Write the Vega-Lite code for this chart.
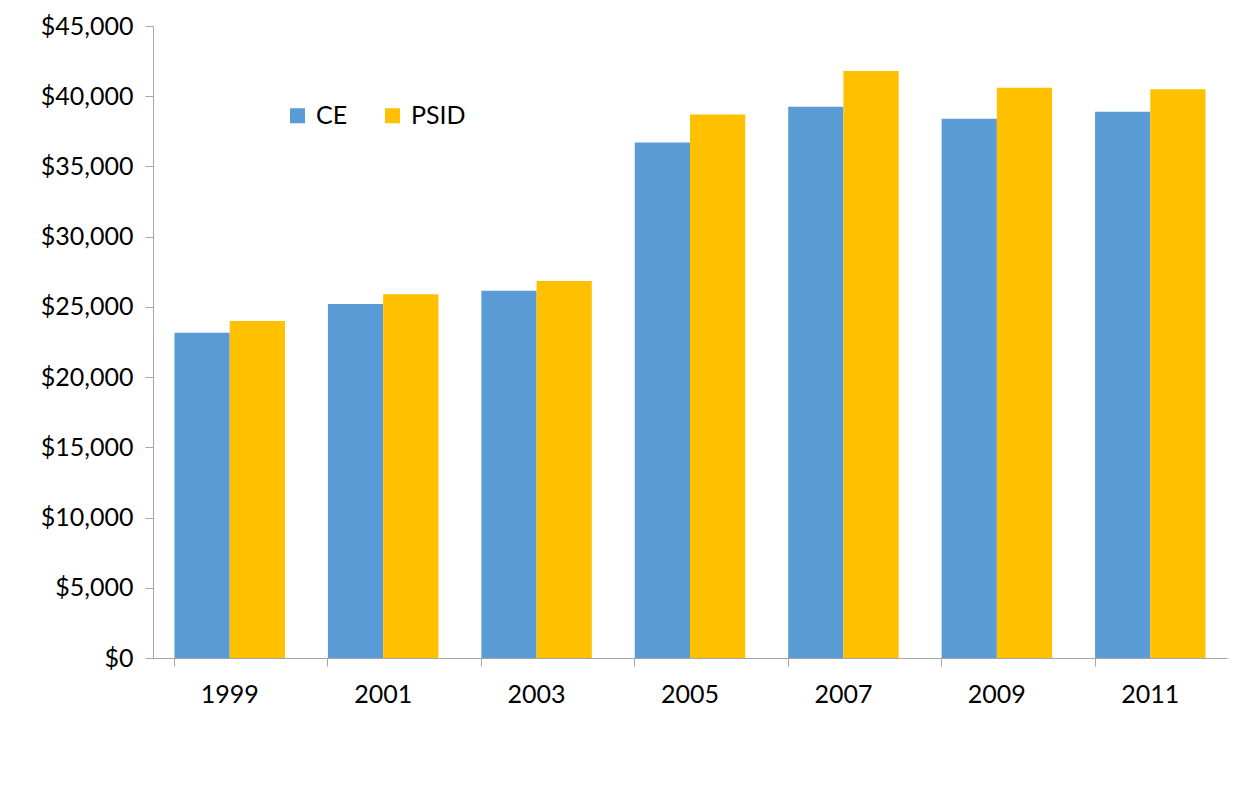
{
  "$schema": "https://vega.github.io/schema/vega-lite/v6.json",
  "autosize": "none",
  "width": 1074,
  "height": 632,
  "padding": {"left": 153, "top": 26, "right": 23, "bottom": 131},
  "background": "white",
  "config": {
    "view": {"stroke": null},
    "font": "Lato",
    "axis": {"labelFont": "Lato", "labelFontSize": 25, "labelColor": "#000000", "domainColor": "#A6A6A6", "tickColor": "#A6A6A6", "grid": false, "title": null},
    "legend": {"labelFont": "Lato", "labelFontSize": 25, "labelColor": "#000000"}
  },
  "data": {
    "values": [
      {"year": "1999", "series": "CE", "value": 23150},
      {"year": "1999", "series": "PSID", "value": 24000},
      {"year": "2001", "series": "CE", "value": 25200},
      {"year": "2001", "series": "PSID", "value": 25900},
      {"year": "2003", "series": "CE", "value": 26150},
      {"year": "2003", "series": "PSID", "value": 26850},
      {"year": "2005", "series": "CE", "value": 36700},
      {"year": "2005", "series": "PSID", "value": 38700},
      {"year": "2007", "series": "CE", "value": 39250},
      {"year": "2007", "series": "PSID", "value": 41800},
      {"year": "2009", "series": "CE", "value": 38400},
      {"year": "2009", "series": "PSID", "value": 40600},
      {"year": "2011", "series": "CE", "value": 38900},
      {"year": "2011", "series": "PSID", "value": 40500}
    ]
  },
  "mark": {"type": "bar"},
  "encoding": {
    "x": {
      "field": "year", "type": "nominal",
      "scale": {"paddingInner": 0.28, "paddingOuter": 0.14},
      "axis": {"labelAngle": 0, "bandPosition": 0, "tickSize": 8, "labelPadding": 16, "labelAlign": "center", "labelOffset": 0, "labelBound": false}
    },
    "xOffset": {"field": "series", "type": "nominal", "scale": {"paddingInner": 0, "paddingOuter": 0}},
    "y": {
      "field": "value", "type": "quantitative",
      "scale": {"domain": [0, 45000], "nice": false},
      "axis": {"values": [0, 5000, 10000, 15000, 20000, 25000, 30000, 35000, 40000, 45000], "format": "$,.0f", "tickSize": 8, "labelPadding": 12}
    },
    "color": {
      "field": "series", "type": "nominal",
      "scale": {"domain": ["CE", "PSID"], "range": ["#5B9BD5", "#FFC000"]},
      "legend": {"orient": "none", "legendX": 132, "legendY": 77, "direction": "horizontal", "title": null, "symbolType": "square", "symbolSize": 225, "symbolStrokeWidth": 0, "columnPadding": 32, "labelOffset": 6}
    }
  }
}
